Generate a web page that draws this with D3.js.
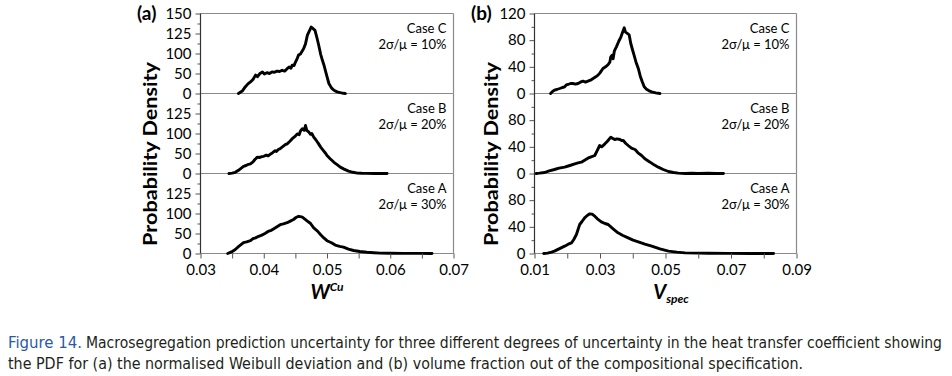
<!DOCTYPE html>
<html><head><meta charset="utf-8">
<script src="https://cdn.jsdelivr.net/npm/d3@7"></script>
<style>
html,body{margin:0;padding:0;background:#fff;}
svg{display:block;}
</style></head>
<body>
<svg id="chart" width="952" height="376"></svg>
<script>
// ---------- DATA ----------
// Panel (a): W^Cu, Probability Density
const aCaseC = [[0.0360,0],[0.0366,6],[0.0371,17],[0.0375,24],[0.0379,29],[0.0383,35],[0.0387,46],[0.0390,42],[0.0394,50],[0.0398,54],[0.0401,49],[0.0405,52],[0.0409,50],[0.0413,54],[0.0417,53],[0.0421,56],[0.0425,55],[0.0429,58],[0.0433,56],[0.0437,62],[0.0440,66],[0.0443,63],[0.0445,71],[0.0448,70],[0.0450,78],[0.0453,88],[0.0455,96],[0.0458,99],[0.0463,106],[0.0466,112],[0.0469,123],[0.0472,128],[0.0475,133],[0.0478,131],[0.0481,129],[0.0484,120],[0.0487,110],[0.0490,98],[0.0492,87],[0.0495,72],[0.0498,54],[0.0500,42],[0.0503,25],[0.0507,14],[0.0511,8],[0.0516,4],[0.0521,2],[0.0526,0.5],[0.0529,0]];
const aCaseB = [[0.0345,0],[0.0350,1],[0.0355,3],[0.0360,8],[0.0364,13],[0.0368,18],[0.0372,20],[0.0376,23],[0.0379,24],[0.0383,29],[0.0386,35],[0.0390,41],[0.0393,40],[0.0397,42],[0.0400,43],[0.0404,46],[0.0407,44],[0.0411,49],[0.0414,52],[0.0418,57],[0.0420,55],[0.0423,60],[0.0426,62],[0.0430,67],[0.0434,72],[0.0437,74],[0.0441,80],[0.0445,87],[0.0449,92],[0.0453,99],[0.0456,97],[0.0458,103],[0.0461,106],[0.0464,104],[0.0466,110],[0.0468,104],[0.0471,102],[0.0474,98],[0.0476,100],[0.0479,91],[0.0482,85],[0.0486,76],[0.0490,66],[0.0494,58],[0.0498,50],[0.0500,45],[0.0505,37],[0.0511,28],[0.0516,22],[0.0521,16],[0.0527,11],[0.0534,6],[0.0541,3],[0.0548,1],[0.0555,0.5],[0.0563,0.3],[0.0575,0],[0.0585,0.3],[0.0595,0]];
const aCaseA = [[0.0343,0],[0.0349,4],[0.0355,10],[0.0360,17],[0.0364,22],[0.0368,27],[0.0373,29],[0.0379,32],[0.0383,37],[0.0387,39],[0.0392,43],[0.0397,46],[0.0402,50],[0.0405,53],[0.0408,56],[0.0412,58],[0.0416,62],[0.0421,67],[0.0426,72],[0.0431,74],[0.0437,77],[0.0442,81],[0.0447,85],[0.0451,90],[0.0455,93],[0.0458,92],[0.0461,91],[0.0465,86],[0.0469,81],[0.0474,75],[0.0479,64],[0.0485,56],[0.0490,47],[0.0495,39],[0.0500,32],[0.0507,27],[0.0513,21],[0.0520,18],[0.0526,16],[0.0534,11],[0.0542,7.5],[0.0552,5],[0.0563,3],[0.0574,2],[0.0584,1],[0.0600,0.6],[0.0620,0.4],[0.0645,0.2],[0.0666,0]];
// Panel (b): V_spec, Probability Density
const bCaseC = [[0.0149,0],[0.0155,3],[0.0161,5],[0.0168,6],[0.0177,7.5],[0.0185,9],[0.0192,10],[0.0197,13],[0.0202,13.5],[0.0210,15],[0.0217,15],[0.0225,14],[0.0233,15],[0.0240,17],[0.0248,18.5],[0.0256,17],[0.0263,18.5],[0.0271,20],[0.0279,22.5],[0.0287,25],[0.0294,27.5],[0.0300,31],[0.0309,37.5],[0.0317,40],[0.0325,43.5],[0.0330,47],[0.0333,55],[0.0337,57.5],[0.0340,52],[0.0344,64],[0.0350,70],[0.0357,78],[0.0364,85],[0.0369,92],[0.0374,98.5],[0.0378,92],[0.0384,90],[0.0389,88],[0.0394,75],[0.0399,66],[0.0404,57.5],[0.0410,47],[0.0417,37.5],[0.0423,26],[0.0429,17.5],[0.0435,10],[0.0442,6.5],[0.0450,4],[0.0458,2.5],[0.0470,1],[0.0483,0]];
const bCaseB = [[0.0105,0],[0.0115,0.5],[0.0131,1.5],[0.0145,4],[0.0161,6],[0.0175,8],[0.0192,9.5],[0.0208,12],[0.0223,14.5],[0.0233,16],[0.0243,17],[0.0253,20],[0.0263,23],[0.0273,25],[0.0284,27],[0.0291,34],[0.0299,42],[0.0305,40],[0.0315,44.5],[0.0322,48],[0.0333,54.5],[0.0338,53],[0.0345,51],[0.0352,52],[0.0361,51],[0.0366,49.5],[0.0371,49.5],[0.0379,45],[0.0386,42],[0.0396,38],[0.0407,36],[0.0416,31],[0.0427,27],[0.0437,22],[0.0453,17],[0.0465,13],[0.0478,9.5],[0.0493,6],[0.0509,3],[0.0524,1.5],[0.0539,0.5],[0.0560,0],[0.0580,0.3],[0.0600,0],[0.0631,0.3],[0.0655,0],[0.0677,0]];
const bCaseA = [[0.0128,0],[0.0140,0.5],[0.0152,2],[0.0161,3.5],[0.0175,7],[0.0192,11],[0.0203,14],[0.0213,16],[0.0220,21],[0.0228,28.5],[0.0233,36],[0.0238,43.5],[0.0245,48],[0.0253,53.5],[0.0261,57],[0.0269,59.5],[0.0276,59],[0.0284,56],[0.0292,52],[0.0304,47.5],[0.0315,45],[0.0325,43.5],[0.0340,37],[0.0355,31],[0.0370,27],[0.0386,23.5],[0.0401,20],[0.0417,17.5],[0.0437,14],[0.0458,11],[0.0483,7],[0.0509,3.5],[0.0535,2],[0.0560,1],[0.0600,0.5],[0.0631,0.3],[0.0693,0.2],[0.0760,0.1],[0.0830,0]];

const caseNames = ["Case C", "Case B", "Case A"];
const caseSigma = ["2σ/μ = 10%", "2σ/μ = 20%", "2σ/μ = 30%"];

const aXDomain = [0.03, 0.07];
const aXTicks = [0.03, 0.04, 0.05, 0.06, 0.07];
const aXMinor = [0.035, 0.045, 0.055, 0.065];
const aYLevels = [0, 50, 100, 125, 150];      // tick labels as printed (equally spaced)
const aYTicksTop = [0, 50, 100, 125, 150];
const aYTicks = [0, 50, 100, 125];
const aYMinor = [25, 75, 112.5, 137.5];

const bXDomain = [0.01, 0.09];
const bXTicks = [0.01, 0.03, 0.05, 0.07, 0.09];
const bXMinor = [0.02, 0.04, 0.06, 0.08];
const bYDomain = [0, 120];
const bYTicksTop = [0, 40, 80, 120];
const bYTicks = [0, 40, 80];
const bYMinor = [20, 60, 100];

const captionLead = "Figure 14.";
const captionLine1 = "Macrosegregation prediction uncertainty for three different degrees of uncertainty in the heat transfer coefficient showing";
const captionLine2 = "the PDF for (a) the normalised Weibull deviation and (b) volume fraction out of the compositional specification.";

// ---------- DRAW ----------
const svg = d3.select("#chart");
const FONT = "Lato, 'Open Sans', sans-serif";
const panelTops = [13.5, 93.5, 173.5];
const PH = 80;

function drawChart(cfg) {
  const g = svg.append("g");
  const x = d3.scaleLinear().domain(cfg.xDomain).range([cfg.x0, cfg.x1]);
  cfg.series.forEach((data, i) => {
    const top = panelTops[i], bot = top + PH;
    const y = cfg.makeY(top, bot);
    g.append("line").attr("x1", cfg.x0).attr("x2", cfg.x1).attr("y1", bot).attr("y2", bot)
      .attr("stroke", "#8a8a8a").attr("stroke-width", 1.2);
    if (i === 0) g.append("line").attr("x1", cfg.x0).attr("x2", cfg.x1).attr("y1", top).attr("y2", top)
      .attr("stroke", "#8a8a8a").attr("stroke-width", 1.2);
    g.append("line").attr("x1", cfg.x1).attr("x2", cfg.x1).attr("y1", top).attr("y2", bot)
      .attr("stroke", "#8a8a8a").attr("stroke-width", 1.2);
    const ticks = i === 0 ? cfg.yTicksTop : cfg.yTicks;
    const ax = d3.axisLeft(y).tickValues(ticks).tickSize(5).tickPadding(4).tickFormat(d => cfg.fmtY(d));
    const ag = g.append("g").attr("transform", `translate(${cfg.x0},0)`).call(ax);
    ag.select(".domain").remove();
    ag.selectAll("text").attr("font-family", FONT).attr("font-size", 15).attr("fill", "#000");
    ag.selectAll("line").attr("stroke", "#555");
    const mg = g.append("g").attr("transform", `translate(${cfg.x0},0)`)
      .call(d3.axisLeft(y).tickValues(cfg.yMinor).tickSize(3).tickFormat(""));
    mg.select(".domain").remove();
    mg.selectAll("line").attr("stroke", "#555");
    g.append("path").datum(data)
      .attr("d", d3.line().x(d => x(d[0])).y(d => y(d[1])))
      .attr("fill", "none").attr("stroke", "#000").attr("stroke-width", 2.9)
      .attr("stroke-linejoin", "round").attr("stroke-linecap", "round");
    g.append("text").attr("x", cfg.x1 - 7).attr("y", top + 19).attr("text-anchor", "end")
      .attr("font-family", FONT).attr("font-size", 13).attr("fill", "#000").text(caseNames[i]);
    g.append("text").attr("x", cfg.x1 - 7).attr("y", top + 35).attr("text-anchor", "end")
      .attr("font-family", FONT).attr("font-size", 13).attr("fill", "#000").text(caseSigma[i]);
  });
  g.append("line").attr("x1", cfg.x0).attr("x2", cfg.x0).attr("y1", panelTops[0]).attr("y2", panelTops[2] + PH)
    .attr("stroke", "#333").attr("stroke-width", 1.2);
  const xb = panelTops[2] + PH;
  const xg = g.append("g").attr("transform", `translate(0,${xb})`)
    .call(d3.axisBottom(x).tickValues(cfg.xTicks).tickSize(5).tickPadding(6).tickFormat(d3.format(".2f")));
  xg.select(".domain").remove();
  xg.selectAll("text").attr("font-family", FONT).attr("font-size", 15).attr("fill", "#000");
  xg.selectAll("line").attr("stroke", "#555");
  const xm = g.append("g").attr("transform", `translate(0,${xb})`)
    .call(d3.axisBottom(x).tickValues(cfg.xMinor).tickSize(5).tickFormat(""));
  xm.select(".domain").remove();
  xm.selectAll("line").attr("stroke", "#555");
  g.append("text").attr("x", cfg.letterX).attr("y", 20).attr("font-family", FONT)
    .attr("font-weight", "bold").attr("font-size", 19).attr("fill", "#000").text(cfg.letter);
  g.append("text").attr("transform", `translate(${cfg.yTitleX},${154}) rotate(-90)`)
    .attr("text-anchor", "middle").attr("font-family", FONT).attr("font-weight", "bold")
    .attr("font-size", 19).attr("fill", "#000")
    .attr("textLength", 184).attr("lengthAdjust", "spacingAndGlyphs").text("Probability Density");
  const xt = g.append("text").attr("x", cfg.xTitleX).attr("y", 299).attr("text-anchor", "middle")
    .attr("font-family", FONT).attr("font-weight", "bold").attr("font-style", "italic")
    .attr("font-size", 20).attr("fill", "#000");
  xt.append("tspan").text(cfg.xTitle[0]);
  xt.append("tspan").attr("font-size", 12).attr("dy", cfg.xTitle[2]).text(cfg.xTitle[1]);
}

drawChart({
  x0: 200.5, x1: 453.5, xDomain: aXDomain, xTicks: aXTicks, xMinor: aXMinor,
  series: [aCaseC, aCaseB, aCaseA],
  makeY: (top, bot) => d3.scaleLinear().domain(aYLevels).range(aYLevels.map((d, k) => bot - k * PH / 4)),
  yTicksTop: aYTicksTop, yTicks: aYTicks, yMinor: aYMinor, fmtY: d => String(d),
  letter: "(a)", letterX: 137, yTitleX: 157, xTitleX: 327, xTitle: ["W", "Cu", -8]
});
drawChart({
  x0: 534.5, x1: 796.5, xDomain: bXDomain, xTicks: bXTicks, xMinor: bXMinor,
  series: [bCaseC, bCaseB, bCaseA],
  makeY: (top, bot) => d3.scaleLinear().domain(bYDomain).range([bot, top]),
  yTicksTop: bYTicksTop, yTicks: bYTicks, yMinor: bYMinor, fmtY: d => String(d),
  letter: "(b)", letterX: 471, yTitleX: 498, xTitleX: 671, xTitle: ["V", "spec", 4]
});

// caption
const CF = "'DejaVu Sans Condensed', 'Liberation Sans Narrow', 'Noto Sans', sans-serif";
svg.append("text").attr("x", 8).attr("y", 348).attr("font-family", CF).attr("font-size", 15.5)
  .attr("fill", "#2a5aa6").attr("textLength", 74).attr("lengthAdjust", "spacingAndGlyphs").text(captionLead);
svg.append("text").attr("x", 86).attr("y", 348).attr("font-family", CF).attr("font-size", 15.5)
  .attr("fill", "#231f20").attr("textLength", 856).attr("lengthAdjust", "spacingAndGlyphs").text(captionLine1);
svg.append("text").attr("x", 8).attr("y", 369).attr("font-family", CF).attr("font-size", 15.5)
  .attr("fill", "#231f20").attr("textLength", 795).attr("lengthAdjust", "spacingAndGlyphs").text(captionLine2);
</script>
</body></html>
